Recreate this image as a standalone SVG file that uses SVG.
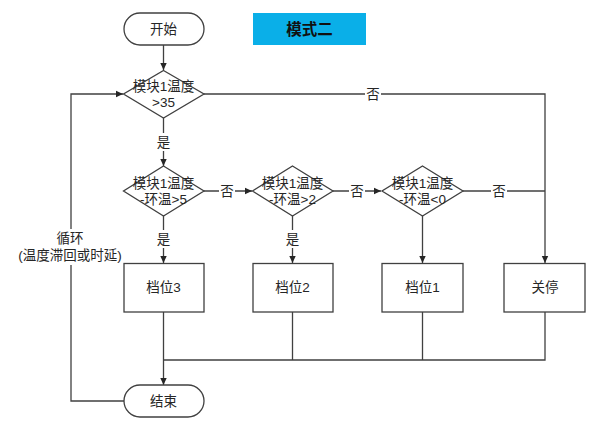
<svg xmlns="http://www.w3.org/2000/svg" width="600" height="425" viewBox="0 0 600 425">
<defs>
<marker id="arr" markerWidth="8" markerHeight="8" refX="7" refY="4" orient="auto" markerUnits="userSpaceOnUse">
<path d="M0,0.8 L7,4 L0,7.2 Z" fill="#262626"/>
</marker>
</defs>
<style>
.shape{fill:#ffffff;stroke:#404040;stroke-width:1.3}
.line{fill:none;stroke:#404040;stroke-width:1.3}
.t{font-family:"Liberation Sans","Noto Sans CJK SC",sans-serif;font-size:13.5px;fill:#262626;text-anchor:middle;dominant-baseline:central}
.bg{fill:#ffffff}
.title{font-family:"Liberation Sans","Noto Sans CJK SC",sans-serif;font-size:15.5px;font-weight:bold;fill:#111111;text-anchor:middle;dominant-baseline:central}
</style>
<rect width="600" height="425" fill="#ffffff"/>
<g id="connectors">
<line class="line" x1="163.5" y1="45" x2="163.5" y2="70" marker-end="url(#arr)"/>
<line class="line" x1="163.5" y1="118" x2="163.5" y2="166" marker-end="url(#arr)"/>
<polyline class="line" points="204,94 545,94 545,263" marker-end="url(#arr)"/>
<line class="line" x1="204" y1="191" x2="252" y2="191" marker-end="url(#arr)"/>
<line class="line" x1="333" y1="191" x2="381" y2="191" marker-end="url(#arr)"/>
<line class="line" x1="463" y1="191" x2="545" y2="191"/>
<line class="line" x1="163.5" y1="216" x2="163.5" y2="263" marker-end="url(#arr)"/>
<line class="line" x1="292.5" y1="216" x2="292.5" y2="263" marker-end="url(#arr)"/>
<line class="line" x1="422.5" y1="216" x2="422.5" y2="263" marker-end="url(#arr)"/>
<line class="line" x1="163.5" y1="312" x2="163.5" y2="385" marker-end="url(#arr)"/>
<polyline class="line" points="163.5,360 545,360 545,312"/>
<line class="line" x1="292.5" y1="312" x2="292.5" y2="360"/>
<line class="line" x1="422.5" y1="312" x2="422.5" y2="360"/>
<polyline class="line" points="124,401 71,401 71,94 123,94" marker-end="url(#arr)"/>
<rect class="bg" x="156" y="133" width="15" height="18"/>
<text class="t" x="163.5" y="142">是</text>
<rect class="bg" x="365" y="85" width="16" height="18"/>
<text class="t" x="373" y="94">否</text>
<rect class="bg" x="219" y="182" width="16" height="18"/>
<text class="t" x="227" y="191">否</text>
<rect class="bg" x="349" y="182" width="16" height="18"/>
<text class="t" x="357" y="191">否</text>
<rect class="bg" x="491" y="182" width="16" height="18"/>
<text class="t" x="499" y="191">否</text>
<rect class="bg" x="156" y="230" width="15" height="18"/>
<text class="t" x="163.5" y="239">是</text>
<rect class="bg" x="285" y="230" width="15" height="18"/>
<text class="t" x="292.5" y="239">是</text>
<rect class="bg" x="16" y="229" width="109" height="36"/>
<text class="t" x="70" y="238">循环</text>
<text class="t" x="70" y="255">(温度滞回或时延)</text>
</g>
<g id="start">
<rect class="shape" x="124" y="13" width="80" height="32" rx="16" ry="16"/>
<text class="t" x="163.5" y="29">开始</text>
</g>
<g id="title">
<rect x="253" y="13" width="113" height="32" fill="#0AAFE8"/>
<text class="title" x="309.5" y="29">模式二</text>
</g>
<g id="d1">
<polygon class="shape" points="163.5,70.5 204,94 163.5,118 123.5,94"/>
<text class="t" x="163.5" y="86">模块1温度</text>
<text class="t" x="163.5" y="102">&gt;35</text>
</g>
<g id="d2">
<polygon class="shape" points="163.5,166 204,191 163.5,216 123.5,191"/>
<text class="t" x="163.5" y="183">模块1温度</text>
<text class="t" x="163.5" y="199">-环温&gt;5</text>
</g>
<g id="d3">
<polygon class="shape" points="292.5,166 333,191 292.5,216 252.5,191"/>
<text class="t" x="292.5" y="183">模块1温度</text>
<text class="t" x="292.5" y="199">-环温&gt;2</text>
</g>
<g id="d4">
<polygon class="shape" points="422.5,166 463,191 422.5,216 382,191"/>
<text class="t" x="422.5" y="183">模块1温度</text>
<text class="t" x="422.5" y="199">-环温&lt;0</text>
</g>
<g id="b3">
<rect class="shape" x="124" y="263.5" width="80" height="48.5"/>
<text class="t" x="163.5" y="287.5">档位3</text>
</g>
<g id="b2">
<rect class="shape" x="253" y="263.5" width="80" height="48.5"/>
<text class="t" x="292.5" y="287.5">档位2</text>
</g>
<g id="b1">
<rect class="shape" x="382" y="263.5" width="81" height="48.5"/>
<text class="t" x="422.5" y="287.5">档位1</text>
</g>
<g id="stop">
<rect class="shape" x="504" y="263.5" width="81" height="48.5"/>
<text class="t" x="545" y="287.5">关停</text>
</g>
<g id="end">
<rect class="shape" x="124" y="385" width="80" height="32" rx="16" ry="16"/>
<text class="t" x="163.5" y="401">结束</text>
</g>
</svg>
